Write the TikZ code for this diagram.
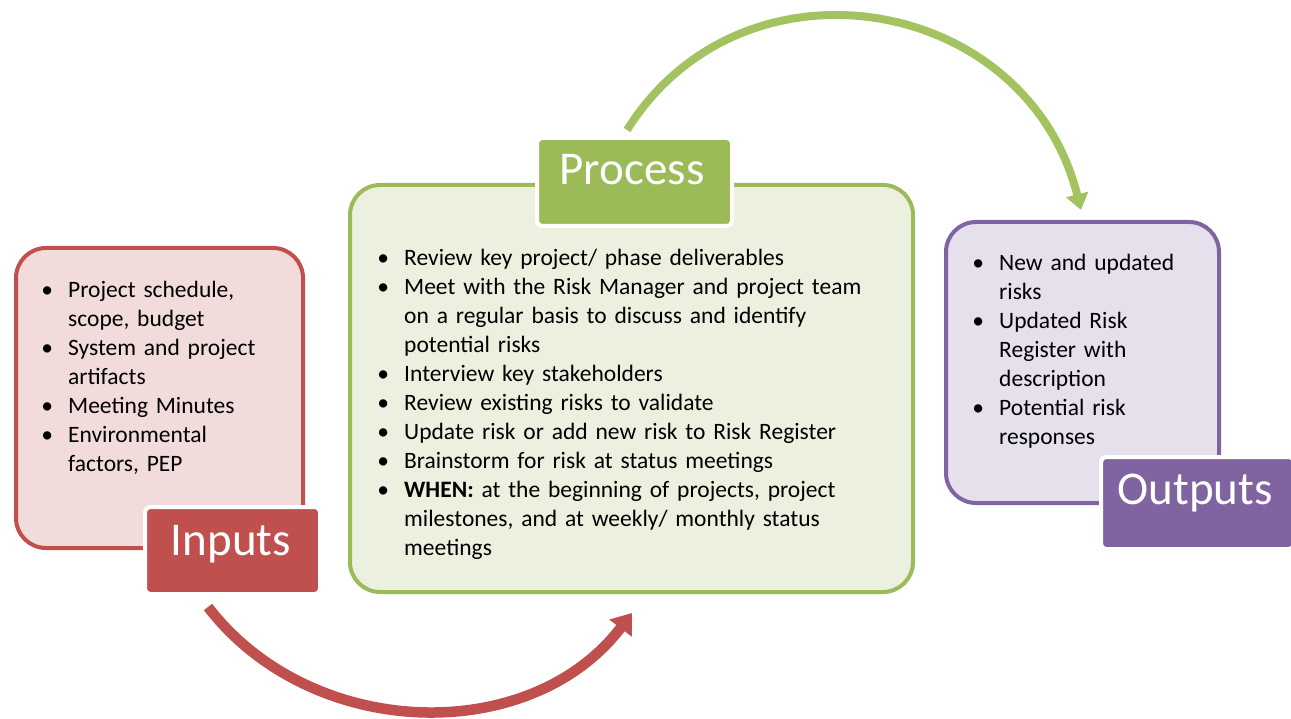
\documentclass[tikz,border=0pt]{standalone}
\usepackage{fontspec}
\setmainfont{Carlito}
\usetikzlibrary{arrows.meta}
\definecolor{redB}{HTML}{C0504D}
\definecolor{redF}{HTML}{F2DCDB}
\definecolor{grnB}{HTML}{9BBB59}
\definecolor{grnA}{HTML}{A2C35F}
\definecolor{grnF}{HTML}{EBF1DE}
\definecolor{purB}{HTML}{8064A2}
\definecolor{purF}{HTML}{E5E0EC}
\newcommand\bl{\par\noindent\hangindent=21pt\hangafter=1\makebox[21pt][l]{\makebox[0pt]{\textbullet}}}
\begin{document}
\begin{tikzpicture}[x=1pt,y=-1pt,
  box/.style={line width=4pt, rounded corners=30pt, anchor=north west, inner sep=0pt},
  lbl/.style={line width=4pt, draw=white, rounded corners=5pt, anchor=north west, inner sep=0pt},
  lbltext/.style={text=white, font=\fontsize{47}{50}\selectfont, anchor=base, inner sep=0pt},
  body/.style={anchor=base west, inner sep=0pt, text width=520pt, font=\fontsize{23.5}{29}\selectfont},
  redarrow/.style={draw=redB, line width=10.5pt, -{Triangle[width=27pt,length=19pt]}},
  grnarrow/.style={draw=grnA, line width=8pt, -{Triangle[width=22pt,length=16pt]}}]
\useasboundingbox (0,0) rectangle (1291,719);
% boxes
\node[box, draw=redB, fill=redF, minimum width=287pt, minimum height=300pt] (inbox) at (14,246) {};
\node[box, draw=grnB, fill=grnF, minimum width=563pt, minimum height=407pt] (procbox) at (348,183) {};
\node[box, draw=purB, fill=purF, minimum width=273pt, minimum height=281pt] (outbox) at (944,220) {};
% labels
\node[lbl, fill=redB, minimum width=175pt, minimum height=87pt] (inlbl) at (143,505) {};
\node[lbl, fill=grnB, minimum width=195pt, minimum height=88pt] (proclbl) at (535,136) {};
\node[lbl, fill=purB, minimum width=193pt, minimum height=92pt] (outlbl) at (1099,455) {};
\node[lbltext] (intxt) at (231,555) {Inputs};
\node[lbltext] (proctxt) at (632,185) {Process};
\node[lbltext] (outtxt) at (1195,504) {Outputs};
% body texts
\node[body] (inlist) at (47,269) {%
\bl Project schedule,\newline scope, budget
\bl System and project\newline artifacts
\bl Meeting Minutes
\bl Environmental\newline factors, PEP\par};
\node[body] (proclist) at (383,237) {%
\bl Review key project/ phase deliverables
\bl Meet with the Risk Manager and project team\newline on a regular basis to discuss and identify\newline potential risks
\bl Interview key stakeholders
\bl Review existing risks to validate
\bl Update risk or add new risk to Risk Register
\bl Brainstorm for risk at status meetings
\bl \textbf{WHEN:} at the beginning of projects, project\newline milestones, and at weekly/ monthly status\newline meetings\par};
\node[body] (outlist) at (978,242) {%
\bl New and updated\newline risks
\bl Updated Risk\newline Register with\newline description
\bl Potential risk\newline responses\par};
% arrows
\coordinate (rs) at (208,607);
\coordinate (re) at (632,613);
\coordinate (gs) at (627,130);
\coordinate (ge) at (1081,210);
\draw[redarrow] (rs) .. controls (311,741) and (530,747) .. (re);
\draw[grnarrow] (gs) .. controls (743,-55) and (1027,-5) .. (ge);
\end{tikzpicture}
\end{document}
